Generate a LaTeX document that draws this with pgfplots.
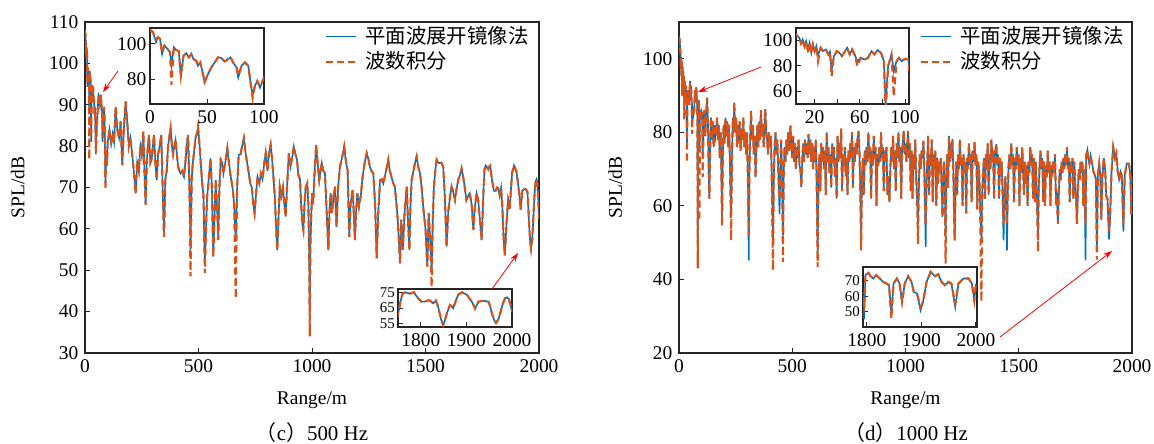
\documentclass[border=0pt]{standalone}
\usepackage{fontspec}
\setmainfont{Liberation Serif}
\newfontfamily\cjk{Noto Sans CJK SC}
\usepackage{pgfplots}
\usepackage{pgfplotstable}
\pgfplotsset{compat=1.18}
\usetikzlibrary{arrows.meta}

\definecolor{mblue}{HTML}{0072BD}
\definecolor{morange}{HTML}{D95319}
\definecolor{axgray}{HTML}{262626}
\definecolor{ared}{HTML}{FF0000}

% 500 Hz: x, plane-wave (b), wavenumber integration (o)
\pgfplotstableread{
x b o
0 107.5 108
1 107.2 107.5
2.5 106.7 106.7
3.8 104.2 104.5
5.3 101 102.5
6.8 103.8 103.8
8.8 102.9 102.9
10.6 94.3 95
12.6 99 99
15.6 97.1 97.1
17.6 95.2 95.2
18.8 88 76.8
20.9 98.1 98.1
22.9 96.6 96.6
25.3 95.8 95.8
27.1 81 82
29.4 93.3 93.3
31.8 94.7 94.7
34.1 92.4 92.4
36.2 94.3 94.3
38.2 91.4 91.4
40.6 90.5 90.5
42 87.6 87.6
44.1 89.5 89.5
46.5 82.9 82.9
47.9 78.1 78.5
50.9 82.9 82.9
53.8 86.7 86.7
56.8 89.5 89.5
59.7 92.4 92.4
62.6 92 92
65.6 90.1 90.1
68.5 91.4 91.4
70.6 92.4 92.4
72.9 89.5 89.5
75.9 86.7 86.7
77.4 81 82
80.3 87.6 87.6
83.2 89.5 89.5
86.2 87.6 87.6
87.6 81 81
90 71 69.5
92 76.2 76.2
94.1 79 79
96.5 75.2 75.8
99.4 80 80
100 81 81
108 84 84
115 80.5 80.5
122 83 83
128 81 81
135 89.5 89.5
142 84 84
150 82 82
157 86 86
164 75.4 75.4
171 84 84
179 90.8 90.8
186 86 86
193 80 80
200 82 82
208 78 78
215 74 74
223 68.6 68.6
230 76 76
237 74 74
244 80 80
250 78 78
257 83.5 83.5
262 74 74
267 65.8 65.8
272 76 76
277 80 80
282 82.7 82.7
288 76 76
294 77 77
299 80 80
304 82.7 82.7
310 76 76
316 71.8 71.8
322 78 78
329 80 80
336 82.7 82.7
342 70 70
348 58.1 58.1
354 72 72
360 74 74
366 80 80
371 82 82
377 84.3 84.3
383 80 80
388 78 78
394 80 80
399 81.5 81.5
405 78 78
410 75 75
416 74 74
421 73.4 73.4
428 74 74
436 72.6 72.6
442 76 76
448 80 80
454 82.7 82.7
460 70 70
465 55 48.5
470 72 72
475 76 76
480 78.3 78.3
487 82 82
493 83 83
498 84.7 84.7
505 80 80
511 75 75
517 70.6 70.6
522 68 68
528 51 49.3
533 60 60
538 67.8 67.8
542 70 70
548 74 74
553 77 77
559 70 70
565 53.3 53.3
570 62 62
576 71.8 71.8
582 65 65
587 57.3 57.3
592 70 70
598 76.7 76.7
604 76 76
610 73.4 73.4
618 76 76
627 79.5 79.5
634 76 76
642 72.6 72.6
650 70 70
657 66 66
664 57 43.2
670 70 70
677 77.9 77.9
685 78 78
692 80 80
700 81.9 81.9
706 79 79
712 76.7 76.7
720 74 74
728 71 71
735 70 70
741 66 66
747 63.8 63.8
753 68 68
760 72.6 72.6
768 71 71
775 73.4 73.4
782 72 72
790 76 76
796 78.3 78.3
804 74 74
810 78 78
818 80.3 80.3
824 77 77
830 72.6 72.6
836 68 68
842 60 60
847 54.9 54.9
852 62 62
858 70.2 70.2
865 68 68
872 70 70
878 66 66
884 63 63
890 70 70
898 78.3 78.3
905 75 75
912 77 77
920 79.9 79.9
927 78 78
934 76.7 76.7
940 73 73
947 72 72
952 66 66
958 61 61
962 59.7 59.7
967 66 66
972 70 70
979 71 71
984 66 66
988 52 52
990 40 34
993 56 56
997 64 64
1001 68.6 68.6
1005 66 66
1010 72 72
1018 80.3 80.3
1025 76 76
1032 71.8 71.8
1038 74 74
1043 75.9 75.9
1050 74 74
1057 73.4 73.4
1064 65 65
1072 54.9 54.9
1077 64 64
1082 68.6 68.6
1088 63.8 63.8
1095 68 68
1101 70.2 70.2
1108 60.5 60.5
1115 70 70
1123 75 75
1132 77 77
1142 79.9 79.9
1150 76 76
1157 74.2 74.2
1164 58.1 58.1
1170 66 66
1179 69.4 69.4
1184 64 64
1189 57.3 57.3
1194 64 64
1200 68.6 68.6
1207 65.4 65.4
1215 68 68
1223 72.6 72.6
1232 76 76
1241 78.3 78.3
1248 77 77
1255 75 75
1262 74 74
1270 73.4 73.4
1278 66 66
1285 52.9 52.9
1292 64 64
1300 71.8 71.8
1307 72 72
1314 71 71
1322 73 73
1330 75 75
1336 76.7 76.7
1343 74 74
1350 72.6 72.6
1358 71 71
1365 70.2 70.2
1372 66 66
1378 62 62
1388 51.7 51.7
1393 62.2 62.2
1400 54.9 54.9
1408 64 64
1417 70.2 70.2
1423 62 62
1429 54.9 54.9
1434 66 66
1439 71.8 71.8
1447 74 74
1454 76 76
1461 77.5 77.5
1468 75 75
1476 73.4 73.4
1483 70 70
1491 64.6 64.6
1500 60 60
1508 50.9 50.9
1514 63.8 63.8
1520 58 58
1527 50 46
1532 62 62
1537 70.2 70.2
1543 74 74
1549 76.7 76.7
1556 76 76
1563 75.9 75.9
1570 76 76
1578 75 75
1585 68 68
1593 55.7 55.7
1600 64 64
1608 67.8 67.8
1615 70.2 70.2
1622 69 69
1630 67 67
1638 70 70
1645 72 72
1652 73 73
1659 74.6 74.6
1666 72.6 72.6
1673 70 70
1680 67 67
1688 68 68
1695 68.6 68.6
1703 66 66
1711 59.7 59.7
1717 65 65
1725 68.6 68.6
1732 67 67
1740 62 62
1747 57.3 57.3
1752 63.7 63.7
1756 70 70
1760 74.4 74.4
1765 75.3 75.3
1770 75 75
1776 74.4 74.4
1780 75 75
1785 75.3 75.3
1790 73 73
1794 71.5 71.5
1801 69.2 69.2
1809 69.2 69.2
1815 70 70
1820 69.9 69.9
1827 68.1 68.1
1833 69.9 69.9
1838 65.9 65.9
1844 58 58
1849 53.6 53.6
1853 57 57
1857 61.4 61.4
1864 67 67
1868 66 66
1871 64.8 64.8
1877 70 70
1882 73.7 73.7
1890 75.3 75.3
1896 74.5 74.5
1901 73.7 73.7
1908 70.8 70.8
1914 68 68
1919 64.6 64.6
1923 67 67
1926 69.2 69.2
1932 69.5 69.5
1937 69.7 69.7
1943 69.5 69.5
1949 69 69
1953 65 65
1956 61.4 61.4
1961 57 57
1965 55.2 55.2
1970 57.5 57.5
1974 61.4 61.4
1980 68 68
1985 71.5 71.5
1989 72 72
1993 70.8 70.8
1997 67 67
2000 62.5 62.5
}\lowdata

% 1000 Hz
\pgfplotstableread{
x b o
0 106 106
2.8 105.2 105.2
4.9 103.1 103.1
6.4 101.8 101.8
7.9 97.4 97.4
9.4 100.5 100.5
10.9 95.3 95.3
12.4 99.2 99.2
13.9 92.7 90
15.5 97.9 97.9
17 90 90
18.5 96.6 96.6
20 91.4 91.4
21.5 95.3 95.3
23 88 83.5
25.3 94 94
27.5 91.4 91.4
30 92.7 92.7
32 88.8 88.8
33.5 91 91
35 77 71.8
37 87.5 87.5
39.6 91.4 91.4
42 90 90
44 87.5 87.5
46 90 90
48.7 94 94
51 88.8 88.8
53.2 92.7 92.7
56 87.5 87.5
57.7 83.5 79.6
60.8 86.1 86.1
63.8 84.8 84.8
67 86 86
70.4 91.4 91.4
72.8 88.8 88.8
75.8 92.2 92.2
78.8 90 90
81.3 83.5 83.5
82.8 50 43
85 79.6 79.6
88 88.8 88.8
90 75.7 56
92.5 83.5 83.5
94.6 86.1 86.1
97 83.5 83.5
100 85.4 85.4
103 84.8 84.8
104.5 74.4 67.8
108 80 80
112 86 86
116 79 79
120 85 85
124 89.4 89.4
128 82 82
131 70 70
134 61.9 61.9
137 74 74
141 84 84
145 78 78
149 83 83
153 76 76
157 82 82
161 79 79
165 81 81
168 84 84
172 78 78
176 82 82
180 73 73
184 80 80
187 70 70
190 54.7 54.7
193 72 72
197 82 82
201 77 77
205 84 84
209 79 79
213 83 83
217 76 76
221 82 82
225 72 72
230 58 50.6
234 74 74
238 84 84
241 80 80
244 88.1 88.1
248 80 80
252 84 84
256 76 76
260 82 82
264 77 77
268 83 83
272 75 75
276 81 81
280 78 78
284 84 84
288 76 76
292 80 80
296 74 74
300 80 80
304 68 68
308 45.2 52
311 70 70
315 80 80
318 85.8 85.8
322 78 78
326 82 82
330 74 74
334 79 79
338 67.8 67.8
342 76 76
346 82 82
350 76 76
354 83 83
358 78 78
362 86 86
366 79 79
370 82 82
374 76 76
378 83 83
381 86.3 86.3
385 80 80
389 78 78
393 74 74
397 80 80
401 76 76
405 79 79
409 70 70
412 60 55
415 50 42.5
418 66 66
422 76 76
426 80 80
430 74 74
434 78 78
438 70 70
441 64 64
444 57.8 62
447 70 70
451 78 78
455 68 68
459 52 44.8
462 68 68
466 76 76
470 72 72
474 78 78
478 74 74
482 80 80
486 75 75
490 79 79
492 81.8 81.8
496 76 76
500 73 73
504 79 79
508 72 72
512 77 77
516 70 70
520 76 76
524 73 73
528 78 78
532 71 71
536 70 70
540 65.1 65.1
544 72 72
548 77 77
552 72 72
556 78 78
560 74 74
564 77 77
568 73 73
572 79.5 79.5
576 74 74
580 78 78
584 72 72
588 77 77
592 70 70
596 76 76
600 72 72
604 78 78
608 66 66
612 47.5 43.4
616 68 68
620 74 74
624 64 64
628 77 77
632 72 72
636 76 76
640 70 70
644 75 75
648 63 63
652 80 80
656 72 72
660 76 76
664 69 69
668 74 74
672 65 65
676 77 77
680 72 72
684 76 76
688 68 68
692 73 73
696 62 62
700 79 79
704 72 72
708 77 77
712 73 73
716 81 81
720 64 64
724 74 74
728 71 71
732 76 76
736 68 68
740 73 73
744 63 63
748 75 75
752 72 72
756 77 77
760 73 73
764 80 80
768 65 65
772 76 76
776 72 72
780 77 77
784 74 74
788 78 78
793 80.4 80.4
797 74 74
800 66 66
804 52 47.9
808 68 68
812 73 73
816 63 63
820 75 75
824 71 71
828 76 76
832 72 72
836 80 80
840 73 73
844 76 76
848 62 62
852 75 75
856 71 71
860 79 79
864 73 73
868 76 76
872 60 60
876 74 74
880 71 71
884 76 76
888 72 72
892 80 80
896 73 73
900 76 76
904 64 64
908 75 75
912 72 72
916 76 76
920 63 63
924 68 68
929 61 61
933 70 70
937 76 76
941 72 72
945 79 79
949 70 70
953 75 75
957 64 64
961 77 77
965 73 73
969 80 80
973 72 72
977 76 76
981 62 62
985 75 75
988 77 77
992 80.4 80.4
996 74 74
1000 77 77
1004 72 72
1008 76 76
1011 80.4 80.4
1015 73 73
1019 77 77
1023 64 64
1027 75 75
1031 62 62
1035 74 74
1039 70 70
1043 78 78
1047 68 68
1051 62 62
1055 55 49.7
1059 66 66
1063 74 74
1067 70 70
1071 75 75
1075 73 73
1079 77.7 77.7
1083 70 70
1086 60 60
1089 48.8 55
1092 64 64
1096 72 72
1100 79 79
1104 63 63
1108 74 74
1112 71 71
1116 78 78
1120 61 61
1124 74 74
1128 70 70
1132 75 75
1136 60 60
1140 73 73
1144 66 66
1148 72 72
1152 69 69
1156 73 73
1160 64 64
1163 57 57
1166 66 66
1170 72 72
1173 66 66
1177 52 44.3
1180 66 66
1184 74 74
1188 65 65
1192 79 79
1196 72 72
1200 77 77
1204 73 73
1207 78.2 78.2
1211 70 70
1214 60 60
1217 50.6 50.6
1220 62 62
1224 72 72
1228 63 63
1232 74 74
1236 70 70
1240 78 78
1244 71 71
1248 73 73
1252 60 60
1256 74 74
1260 69 69
1264 72 72
1268 58 58
1272 73 73
1276 70 70
1280 77 77
1284 71 71
1288 74 74
1292 61 61
1296 75 75
1300 72 72
1305 77.3 77.3
1309 71 71
1313 74 74
1317 59 59
1321 72 72
1325 69 69
1329 62 62
1335 51 34
1339 64 64
1343 70 70
1347 73 73
1351 62 62
1355 74 74
1359 70 70
1363 77 77
1367 63 63
1371 74 74
1375 70 70
1379 78 78
1383 72 72
1387 75 75
1391 62 62
1395 74 74
1401 76.8 76.8
1405 71 71
1409 74 74
1413 62 62
1417 73 73
1421 68 68
1425 72 72
1429 62 62
1433 50.6 55
1437 64 64
1441 68 68
1445 60 60
1448 47.9 55
1451 62 62
1455 71 71
1459 74 74
1463 70 70
1467 77 77
1471 71 71
1475 74 74
1479 61 61
1483 73 73
1487 70 70
1491 76 76
1495 71 71
1499 74 74
1503 60 60
1507 73 73
1511 69 69
1515 75.9 75.9
1519 71 71
1523 63 63
1527 72 72
1531 66 66
1535 71 71
1539 60 60
1543 72 72
1547 69 69
1551 76 76
1555 71 71
1559 74 74
1563 62 62
1567 73 73
1571 61 61
1575 72 72
1579 64 64
1582 58 58
1585 52 47.5
1588 64 64
1592 71 71
1596 75 75
1600 70 70
1604 73 73
1608 61 61
1612 72 72
1616 60 60
1620 71 71
1624 68 68
1628 75 75
1632 69 69
1636 72 72
1640 60 60
1644 71 71
1648 68 68
1652 72 72
1656 69 69
1660 74 74
1664 62 62
1668 63 63
1673 55.1 55.1
1677 64 64
1681 70 70
1685 67 67
1689 72 72
1693 69 69
1697 73 73
1701 70 70
1705 74 74
1709 71 71
1713 75.9 75.9
1717 70 70
1721 73 73
1725 61 61
1729 72 72
1733 69 69
1737 73 73
1741 62 62
1745 72 72
1749 66 66
1753 62 62
1757 55.1 55.1
1761 64 64
1765 70 70
1769 67 67
1773 72 72
1777 69 69
1781 72 72
1785 60 60
1789 70 70
1792 60 60
1795 45.2 55
1797.5 73.7 73.7
1803 75.2 75.2
1807 73 73
1812 71.5 71.5
1817 73.7 73.7
1824 71.5 71.5
1830 69.3 69.3
1836 68.3 68.3
1840.6 67.2 67.2
1845 48.7 45.4
1849 68.3 68.3
1855 71.5 71.5
1860 68.3 68.3
1864.6 56.3 56.3
1869.5 68.3 68.3
1875.7 73 73
1882 69.3 69.3
1886 62.8 62.8
1892 61.7 61.7
1898.5 50.9 53
1903 56.3 56.3
1909.5 69.3 69.3
1917 75.9 75.9
1925 73 73
1931 74.3 74.3
1937 69.3 69.3
1943 67.2 67.2
1949.5 69.3 69.3
1955 68.3 68.3
1962 53 55
1968 68.3 68.3
1977 71.5 71.5
1986.5 71.5 71.5
1992.6 68.3 68.3
1997 57.4 57.4
2000 68 68
}\highdata

\pgfplotsset{
  panel/.style={
    scale only axis,
    anchor=south west,
    clip mode=individual,
    axis line style={draw=axgray, line width=1.1bp},
    tick style={draw=axgray, line width=0.9bp},
    major tick length=5bp,
    tick align=inside,
    xtick pos=bottom, ytick pos=left,
    /pgf/number format/assume math mode=true,
    /pgf/number format/1000 sep={},
    scaled ticks=false,
    axis background/.style={fill=white},
    legend image code/.code={\draw[##1] (0bp,0bp) -- (30bp,0bp);},
  },
  inset/.style={panel, yticklabel style={inner sep=0.5bp, xshift=-3bp}},
  tightinset/.style={panel, yticklabel style={inner sep=0pt, xshift=-3bp,
    font=\fontsize{15}{15}\selectfont}},
  bline/.style={mblue, line width=1.6bp},
  oline/.style={morange, line width=2.1bp, dash pattern=on 7bp off 4bp},
}

\begin{document}%
\fontsize{19.5}{22}\selectfont%
\begin{tikzpicture}
\useasboundingbox (0bp,0bp) rectangle (1154bp,-444bp);

% ---- (c) 500 Hz ----
\begin{axis}[panel, at={(85bp,-353bp)}, width=454bp, height=331bp,
  xmin=0, xmax=2000, ymin=30, ymax=110,
  xtick={0,500,...,2000}, ytick={30,40,...,110},
  xlabel={Range/m}, ylabel={SPL/dB},
  xlabel style={at={(axis description cs:0.5,-0.142)}, anchor=center},
  ylabel style={at={(axis description cs:-0.148,0.5)}, anchor=center},
  legend cell align=left,
  legend style={at={(axis description cs:0.5286,0.99)}, anchor=north west,
    draw=none, fill=none, inner sep=0pt, column sep=7bp, row sep=3bp,
    font=\fontsize{20.5}{22}\selectfont, nodes={inner sep=1bp}}]
\addplot[bline] table[x=x, y=b] {\lowdata};
\addlegendentry{\cjk 平面波展开镜像法}
\addplot[oline] table[x=x, y=o] {\lowdata};
\addlegendentry{\cjk 波数积分}
\node[font=\fontsize{21}{23}\selectfont] at (axis description cs:0.5,-0.239) {{\cjk （}c{\cjk ）}500 Hz};
\end{axis}

\begin{axis}[inset, at={(150bp,-104bp)}, width=114bp, height=76bp,
  xmin=0, xmax=100, ymin=66, ymax=109, xtick={0,50,100}, ytick={80,100}]
\addplot[bline] table[x=x, y=b] {\lowdata};
\addplot[oline] table[x=x, y=o] {\lowdata};
\end{axis}

\begin{axis}[tightinset, at={(398bp,-327bp)}, width=114bp, height=38bp,
  xmin=1750, xmax=2000, ymin=52.5, ymax=77.5,
  xtick={1800,1900,2000}, ytick={55,65,75}]
\addplot[bline] table[x=x, y=b] {\lowdata};
\addplot[oline] table[x=x, y=o] {\lowdata};
\end{axis}

% ---- (d) 1000 Hz ----
\begin{axis}[panel, at={(679bp,-353bp)}, width=453bp, height=331bp,
  xmin=0, xmax=2000, ymin=20, ymax=110,
  xtick={0,500,...,2000}, ytick={20,40,...,100},
  xlabel={Range/m}, ylabel={SPL/dB},
  xlabel style={at={(axis description cs:0.5,-0.142)}, anchor=center},
  ylabel style={at={(axis description cs:-0.141,0.5)}, anchor=center},
  legend cell align=left,
  legend style={at={(axis description cs:0.532,0.99)}, anchor=north west,
    draw=none, fill=none, inner sep=0pt, column sep=7bp, row sep=3bp,
    font=\fontsize{20.5}{22}\selectfont, nodes={inner sep=1bp}}]
\addplot[bline] table[x=x, y=b] {\highdata};
\addlegendentry{\cjk 平面波展开镜像法}
\addplot[oline] table[x=x, y=o] {\highdata};
\addlegendentry{\cjk 波数积分}
\node[font=\fontsize{21}{23}\selectfont] at (axis description cs:0.501,-0.239) {{\cjk （}d{\cjk ）}1000 Hz};
\end{axis}

\begin{axis}[inset, at={(796bp,-104bp)}, width=113bp, height=76bp,
  xmin=3.5, xmax=103.5, ymin=50, ymax=109.5,
  xtick={20,40,60,80,100}, xticklabels={20,,60,,100}, ytick={60,80,100}]
\addplot[bline] table[x=x, y=b] {\highdata};
\addplot[oline] table[x=x, y=o] {\highdata};
\end{axis}

\begin{axis}[tightinset, at={(863bp,-327bp)}, width=114bp, height=60bp,
  xmin=1793, xmax=2002, ymin=40, ymax=79,
  xtick={1800,1900,2000}, ytick={50,60,70}]
\addplot[bline] table[x=x, y=b] {\highdata};
\addplot[oline] table[x=x, y=o] {\highdata};
\end{axis}

% pointers from the main traces to the zoomed insets
\draw[ared, line width=0.8bp, -{Stealth[length=9bp,width=6bp]}] (118bp,-71bp) -- (103bp,-92bp);
\draw[ared, line width=0.8bp, -{Stealth[length=9bp,width=6bp]}] (492bp,-289bp) -- (518bp,-253bp);
\draw[ared, line width=0.8bp, -{Stealth[length=9bp,width=6bp]}] (761bp,-67bp) -- (698bp,-92bp);
\draw[ared, line width=0.8bp, -{Stealth[length=9bp,width=6bp]}] (1000bp,-337bp) -- (1112bp,-251bp);
\end{tikzpicture}%
\end{document}
